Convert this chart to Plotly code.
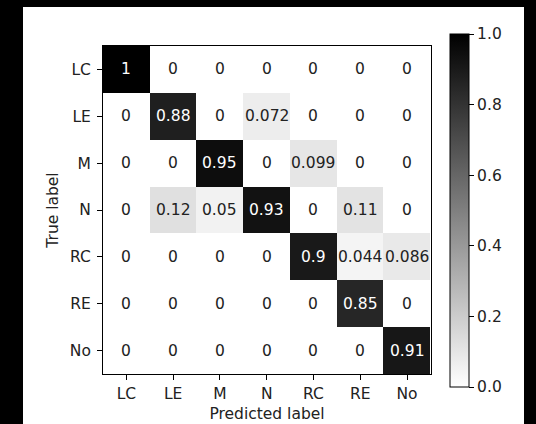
import plotly.graph_objects as go

labels = ["LC", "LE", "M", "N", "RC", "RE", "No"]
values = [
    [1.0, 0, 0, 0, 0, 0, 0],
    [0, 0.88, 0, 0.072, 0, 0, 0],
    [0, 0, 0.95, 0, 0.099, 0, 0],
    [0, 0.12, 0.05, 0.93, 0, 0.11, 0],
    [0, 0, 0, 0, 0.9, 0.044, 0.086],
    [0, 0, 0, 0, 0, 0.85, 0],
    [0, 0, 0, 0, 0, 0, 0.91],
]
cell_text = [
    ["1", "0", "0", "0", "0", "0", "0"],
    ["0", "0.88", "0", "0.072", "0", "0", "0"],
    ["0", "0", "0.95", "0", "0.099", "0", "0"],
    ["0", "0.12", "0.05", "0.93", "0", "0.11", "0"],
    ["0", "0", "0", "0", "0.9", "0.044", "0.086"],
    ["0", "0", "0", "0", "0", "0.85", "0"],
    ["0", "0", "0", "0", "0", "0", "0.91"],
]
cbar_ticks = [0.0, 0.2, 0.4, 0.6, 0.8, 1.0]

FONT = "DejaVu Sans"
FS = 15.5
W, H = 536, 424
L, R, T, B = 103, 105, 46, 50
pw, ph = W - L - R, H - T - B

fig = go.Figure()
fig.add_trace(go.Heatmap(
    z=values, x=labels, y=labels,
    colorscale=[[0, "#ffffff"], [1, "#000000"]],
    zmin=0, zmax=1,
    hoverinfo="skip",
    colorbar=dict(
        thickness=19, thicknessmode="pixels",
        len=353, lenmode="pixels",
        x=(450 - L) / pw, xanchor="left", xpad=0,
        y=(H - B - 34) / ph, yanchor="top", ypad=0,
        outlinecolor="#000000", outlinewidth=1,
        tickvals=cbar_ticks, ticktext=[f"{v:.1f}" for v in cbar_ticks],
        ticks="outside", ticklen=5, tickwidth=1, tickcolor="#000000",
        tickfont=dict(family=FONT, size=FS, color="#222222"),
    ),
))

annotations = []
for i, row in enumerate(values):
    for j, v in enumerate(row):
        annotations.append(dict(
            x=labels[j], y=labels[i], xref="x", yref="y",
            text=cell_text[i][j], showarrow=False,
            font=dict(family=FONT, size=FS, color="#ffffff" if v > 0.5 else "#222222"),
        ))

axis_common = dict(
    showline=True, linecolor="#000000", linewidth=1, mirror=True,
    ticks="outside", ticklen=5, tickwidth=1, tickcolor="#000000",
    tickfont=dict(family=FONT, size=FS, color="#222222"),
    showgrid=False, zeroline=False, automargin=False,
)

fig.update_layout(
    width=W, height=H,
    margin=dict(l=L, r=R, t=T, b=B, pad=0),
    paper_bgcolor="#000000", plot_bgcolor="#ffffff",
    font=dict(family=FONT, size=FS, color="#222222"),
    xaxis=dict(axis_common, title=dict(text="Predicted label", standoff=6,
               font=dict(family=FONT, size=FS, color="#222222"))),
    yaxis=dict(axis_common, autorange="reversed", ticklabelstandoff=3,
               title=dict(text="True label", standoff=7,
               font=dict(family=FONT, size=FS, color="#222222"))),
    annotations=annotations,
    shapes=[dict(
        type="rect", xref="paper", yref="paper", layer="below",
        x0=(23 - L) / pw, x1=(524 - L) / pw,
        y0=(H - B - 424) / ph, y1=(H - B - 7) / ph,
        fillcolor="#ffffff", line=dict(width=0),
    )],
)

fig.write_html("out.html", config={"displayModeBar": False},
               post_script="document.body.style.margin='0';document.body.style.overflow='hidden';")
